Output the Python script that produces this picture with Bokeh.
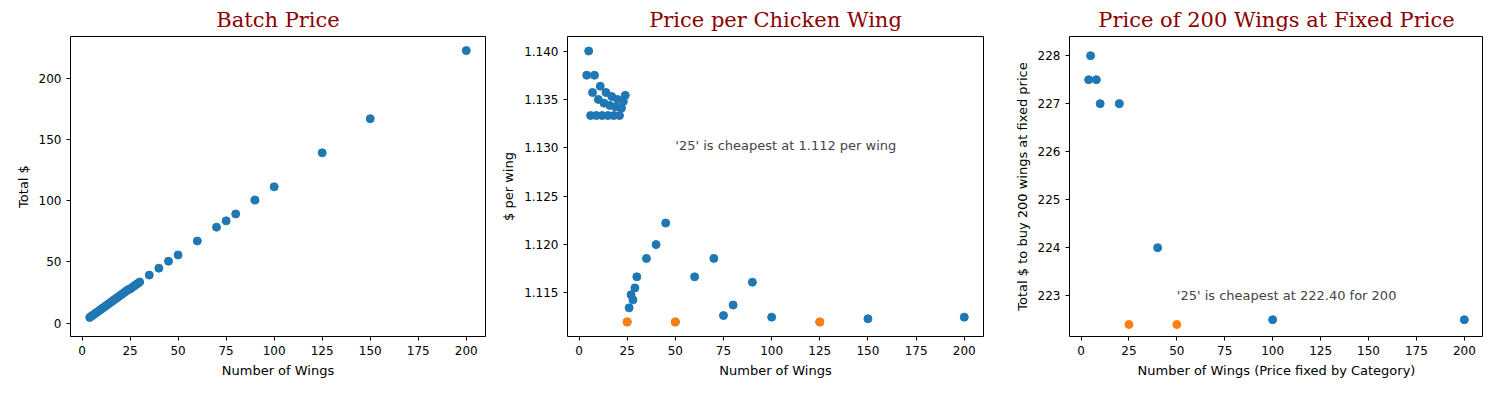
from bokeh.plotting import figure
from bokeh.layouts import row
from bokeh.models import Range1d, FixedTicker, Label, PrintfTickFormatter
from bokeh.embed import file_html
from bokeh.resources import INLINE

BLUE = "#1f77b4"
ORANGE = "#ff7f0e"

wings = [4, 5, 6, 7, 8, 9, 10, 11, 12, 13, 14, 15, 16, 17, 18, 19, 20, 21, 22, 23, 24,
         25, 26, 27, 28, 29, 30, 35, 40, 45, 50, 60, 70, 75, 80, 90, 100, 125, 150, 200]
price = [4.55, 5.70, 6.80, 7.95, 9.10, 10.20, 11.35, 12.50, 13.60, 14.75, 15.90, 17.00,
         18.15, 19.30, 20.40, 21.55, 22.70, 23.80, 24.95, 26.10, 27.25, 27.80, 28.95,
         30.10, 31.20, 32.35, 33.50, 39.15, 44.80, 50.50, 55.60, 67.00, 78.30, 83.45,
         89.10, 100.45, 111.25, 139.00, 166.85, 222.50]
per_wing = [p / n for n, p in zip(wings, price)]
cheap_wings = [25, 50, 125]
cheap_per_wing = [1.112, 1.112, 1.112]

cat_wings = [4, 5, 8, 10, 20, 40, 100, 200]
cat_total = [227.5, 228.0, 227.5, 227.0, 227.0, 224.0, 222.5, 222.5]
cat_cheap_wings = [25, 50]
cat_cheap_total = [222.4, 222.4]


def make(title, width, left, right, xr, yr, xlabel, ylabel):
    p = figure(width=width, height=380, output_backend="svg", toolbar_location=None,
               x_range=Range1d(*xr), y_range=Range1d(*yr),
               min_border_left=left, min_border_right=right,
               min_border_top=36, min_border_bottom=42)
    p.title.text = title
    p.title.align = "center"
    p.title.text_font = "DejaVu Serif"
    p.title.text_font_style = "normal"
    p.title.text_font_size = "21px"
    p.title.text_color = "darkred"
    p.grid.visible = False
    p.outline_line_color = "black"
    p.xaxis.axis_label = xlabel
    p.yaxis.axis_label = ylabel
    for ax in (p.xaxis, p.yaxis):
        ax.axis_label_text_font = "DejaVu Sans"
        ax.axis_label_text_font_style = "normal"
        ax.axis_label_text_font_size = "13px"
        ax.axis_label_text_color = "black"
        ax.major_label_text_font = "DejaVu Sans"
        ax.major_label_text_font_size = "12px"
        ax.major_label_text_color = "black"
        ax.minor_tick_line_color = None
        ax.major_tick_line_color = "black"
        ax.major_tick_in = 0
        ax.major_tick_out = 4
        ax.axis_line_color = None
    p.xaxis.ticker = FixedTicker(ticks=[0, 25, 50, 75, 100, 125, 150, 175, 200])
    return p


p1 = make("Batch Price", 495, 70, 10, (-6, 210), (-11, 234), "Number of Wings", "Total $")
p1.yaxis.ticker = FixedTicker(ticks=[0, 50, 100, 150, 200])
p1.scatter(wings, price, size=8, color=BLUE)

p2 = make("Price per Chicken Wing", 498, 72, 10, (-6, 210), (1.1105, 1.1415),
          "Number of Wings", "$ per wing")
p2.yaxis.ticker = FixedTicker(ticks=[1.115, 1.120, 1.125, 1.130, 1.135, 1.140])
p2.yaxis.formatter = PrintfTickFormatter(format="%.3f")
p2.scatter(wings, per_wing, size=8, color=BLUE)
p2.scatter(cheap_wings, cheap_per_wing, size=8, color=ORANGE)
p2.add_layout(Label(x=50, y=1.1302, text="'25' is cheapest at 1.112 per wing",
                    text_font="DejaVu Sans", text_font_size="13px", text_baseline="middle"))

p3 = make("Price of 200 Wings at Fixed Price", 490, 76, 0, (-6, 210), (222.15, 228.4),
          "Number of Wings (Price fixed by Category)", "Total $ to buy 200 wings at fixed price")
p3.yaxis.ticker = FixedTicker(ticks=[223, 224, 225, 226, 227, 228])
p3.scatter(cat_wings, cat_total, size=8, color=BLUE)
p3.scatter(cat_cheap_wings, cat_cheap_total, size=8, color=ORANGE)
p3.add_layout(Label(x=50, y=223.0, text="'25' is cheapest at 222.40 for 200",
                    text_font="DejaVu Sans", text_font_size="13px", text_baseline="middle"))

layout = row(p1, p2, p3)
open("out.html", "w").write(file_html(layout, INLINE))
